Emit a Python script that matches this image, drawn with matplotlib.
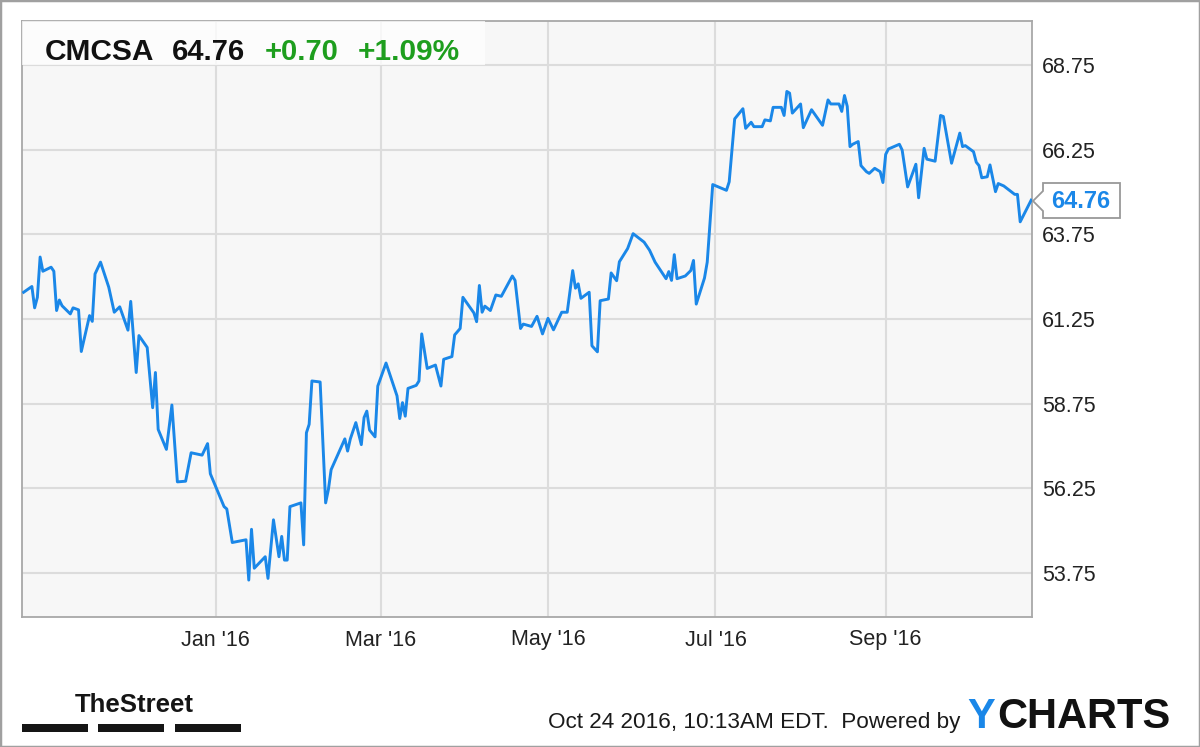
import pandas as pd
import matplotlib
matplotlib.use('Agg')
import matplotlib.pyplot as plt
from matplotlib import font_manager
from matplotlib.patches import Rectangle, Polygon

plt.rcParams['font.family'] = ['Liberation Sans', 'DejaVu Sans']

ticker = 'CMCSA'
last_price = 64.76
change = '+0.70'
change_pct = '+1.09%'
stamp = 'Oct 24 2016, 10:13AM EDT.  Powered by'

# days since 2016-01-01 and closing price
days = [-70, -67, -66, -65, -64, -63, -60, -59, -58, -57,
        -56, -53, -52, -50, -49, -46, -45, -44, -42, -39,
        -37, -35, -32, -31, -29, -28, -25, -23, -22, -21,
        -18, -16, -14, -11, -9, -5, -3, -2, 3, 4,
        6, 11, 12, 13, 14, 18, 19, 21, 23, 24,
        25, 26, 27, 31, 32, 33, 34, 35, 38, 40,
        41, 42, 47, 48, 49, 51, 53, 54, 55, 56,
        58, 59, 62, 66, 67, 68, 69, 70, 73, 74,
        75, 77, 80, 82, 83, 86, 87, 89, 90, 94,
        95, 96, 97, 98, 100, 102, 104, 108, 109, 111,
        112, 115, 117, 119, 121, 123, 126, 128, 130, 131,
        132, 133, 136, 137, 139, 140, 143, 144, 146, 147,
        150, 152, 156, 158, 160, 164, 165, 166, 167, 168,
        171, 173, 174, 175, 178, 179, 181, 186, 187, 189,
        192, 193, 195, 196, 199, 200, 202, 203, 206, 207,
        208, 209, 210, 213, 214, 217, 221, 223, 224, 227,
        228, 229, 230, 231, 232, 234, 235, 237, 238, 240,
        242, 243, 244, 245, 249, 250, 252, 255, 256, 258,
        259, 262, 264, 265, 268, 271, 272, 273, 276, 277,
        278, 279, 281, 282, 284, 285, 287, 291, 292, 293,
        297]
prices = [62.04, 62.21, 61.58, 61.89, 63.08, 62.66, 62.78, 62.66, 61.50, 61.81,
          61.64, 61.40, 61.58, 61.52, 60.29, 61.35, 61.18, 62.58, 62.93, 62.19,
          61.45, 61.61, 60.92, 61.77, 59.67, 60.76, 60.41, 58.63, 59.67, 57.99,
          57.40, 58.71, 56.44, 56.46, 57.30, 57.23, 57.57, 56.68, 55.71, 55.64,
          54.65, 54.73, 53.54, 55.04, 53.89, 54.23, 53.59, 55.32, 54.23, 54.83,
          54.13, 54.13, 55.71, 55.82, 54.58, 57.89, 58.14, 59.42, 59.39, 55.82,
          56.21, 56.80, 57.71, 57.35, 57.71, 58.19, 57.54, 58.34, 58.53, 57.97,
          57.77, 59.27, 59.95, 58.98, 58.31, 58.78, 58.38, 59.20, 59.29, 59.42,
          60.81, 59.79, 59.89, 59.27, 60.06, 60.14, 60.78, 60.97, 61.89, 61.43,
          61.17, 62.24, 61.45, 61.63, 61.50, 61.96, 61.92, 62.52, 62.39, 60.97,
          61.10, 61.03, 61.33, 60.81, 61.27, 60.93, 61.45, 61.45, 62.68, 62.16,
          62.29, 61.86, 62.04, 60.46, 60.28, 61.79, 61.84, 62.61, 62.38, 62.94,
          63.33, 63.77, 63.52, 63.28, 62.93, 62.44, 62.65, 62.39, 63.15, 62.44,
          62.52, 62.68, 62.98, 61.69, 62.46, 62.93, 65.22, 65.05, 65.30, 67.16,
          67.46, 66.88, 67.06, 66.93, 66.93, 67.13, 67.10, 67.50, 67.50, 67.26,
          67.97, 67.92, 67.33, 67.60, 66.90, 67.43, 66.97, 67.72, 67.60, 67.60,
          67.38, 67.85, 67.53, 66.34, 66.41, 66.49, 65.78, 65.60, 65.55, 65.70,
          65.60, 65.28, 66.11, 66.27, 66.41, 66.24, 65.15, 65.82, 64.83, 66.29,
          65.97, 65.91, 67.26, 67.23, 65.85, 66.74, 66.34, 66.37, 66.19, 65.88,
          65.78, 65.42, 65.45, 65.80, 65.01, 65.25, 65.18, 64.93, 64.93, 64.12,
          64.76]

y_ticks = [53.75, 56.25, 58.75, 61.25, 63.75, 66.25, 68.75]
x_tick_dates = ['2016-01-01', '2016-03-01', '2016-05-01', '2016-07-01', '2016-09-01']
x_tick_labels = ["Jan '16", "Mar '16", "May '16", "Jul '16", "Sep '16"]

base = pd.Timestamp('2016-01-01')
dates = base + pd.to_timedelta(days, unit='D')

blue = '#1a87e8'
green = '#1e9e1e'

# condensed face for the logo if one is installed
installed = {f.name for f in font_manager.fontManager.ttflist}
narrow = None
for name in ['Liberation Sans Narrow', 'DejaVu Sans Condensed']:
    if name in installed:
        narrow = name
        break

W, H = 1200, 747
fig = plt.figure(figsize=(12, 7.47), dpi=100)
fig.patch.set_facecolor('white')


def fx(px):
    return px / W


def fy(py):
    return 1 - py / H


# plot area in pixels: x 22..1032, y 21..617
ax = fig.add_axes([fx(22), fy(617), fx(1032) - fx(22), fy(21) - fy(617)])
ax.set_facecolor('#f7f7f7')
ax.plot(dates, prices, color=blue, lw=2.1, zorder=3)

ax.set_xlim(base - pd.Timedelta(days=70.6), base + pd.Timedelta(days=297.3))
ax.set_ylim(52.45, 70.05)

ax.set_xticks(pd.to_datetime(x_tick_dates))
ax.set_xticklabels(x_tick_labels)
ax.yaxis.tick_right()
ax.set_yticks(y_ticks)
ax.set_yticklabels([f'{v:.2f}' for v in y_ticks])
ax.tick_params(axis='both', length=0, labelsize=15.5, colors='#222222')
ax.tick_params(axis='y', pad=7)
ax.tick_params(axis='x', pad=9)

ax.grid(True, color='#dcdcdc', lw=1.5)
ax.set_axisbelow(True)
for sp in ax.spines.values():
    sp.set_color('#a8a8a8')
    sp.set_linewidth(1.3)

# header box with quote
ax.add_patch(Rectangle((0, 1 - 44 / 596), 463 / 1010, 44 / 596, transform=ax.transAxes,
                       facecolor='white', alpha=0.75, edgecolor='none', zorder=5, clip_on=False))
fig.text(fx(45), fy(60), ticker, fontsize=21.5, fontweight='bold', color='#111111', va='baseline')
fig.text(fx(172), fy(60), f'{last_price:.2f}', fontsize=21, fontweight='bold', color='#111111', va='baseline')
fig.text(fx(265), fy(60), change, fontsize=21, fontweight='bold', color=green, va='baseline')
fig.text(fx(358), fy(60), change_pct, fontsize=21.5, fontweight='bold', color=green, va='baseline')

# last price flag
flag = [(1033, 201), (1043, 191), (1043, 183), (1120, 183), (1120, 218), (1043, 218), (1043, 211)]
fig.patches.append(Polygon([(fx(a), fy(b)) for a, b in flag], closed=True, transform=fig.transFigure,
                           facecolor='white', edgecolor='#999999', lw=1.3, zorder=4))
fig.text(fx(1081), fy(201), f'{last_price:.2f}', fontsize=17, fontweight='bold', color=blue,
         ha='center', va='center', zorder=5)

# footer
if narrow:
    fig.text(fx(75), fy(712), 'TheStreet', fontsize=23, fontweight='bold', color='#151515',
             family=[narrow, 'Liberation Sans'], va='baseline')
else:
    fig.text(fx(75), fy(712), 'TheStreet', fontsize=18.5, fontweight='bold', color='#151515',
             va='baseline')
for x0, x1 in [(22, 88), (98, 164), (175, 241)]:
    fig.patches.append(Rectangle((fx(x0), fy(732)), fx(x1) - fx(x0), fy(724) - fy(732),
                                 transform=fig.transFigure, facecolor='#151515', edgecolor='none'))
fig.text(fx(548), fy(728), stamp, fontsize=16.2, color='#1a1a1a', va='baseline')
fig.text(fx(967), fy(728), 'Y', fontsize=30, fontweight='bold', color=blue, va='baseline')
fig.text(fx(997), fy(728), 'CHARTS', fontsize=30, fontweight='bold', color='#111111', va='baseline')

# outer frame
fig.patches.append(Rectangle((0, 0), 1, 1, transform=fig.transFigure, fill=False,
                             edgecolor='#a0a0a0', lw=2.5))

fig.savefig('out.png', dpi=100)
